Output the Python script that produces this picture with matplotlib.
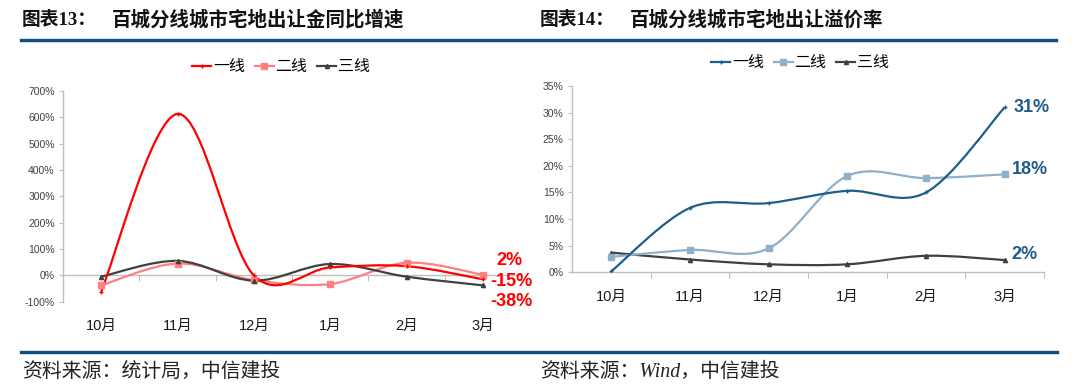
import matplotlib
matplotlib.use('Agg')
import matplotlib.pyplot as plt
from matplotlib.path import Path
from matplotlib.patches import PathPatch
from matplotlib.lines import Line2D

plt.rcParams['font.family'] = ['Liberation Sans', 'Noto Sans CJK SC', 'DejaVu Sans']

months = ['10月', '11月', '12月', '1月', '2月', '3月']
series_names = ['一线', '二线', '三线']

# 百城分线城市宅地出让金同比增速 (%)
growth_t1 = [-62, 613, 0, 30, 35, -15]
growth_t2 = [-38, 45, -18, -33, 48, 2]
growth_t3 = [-5, 55, -20, 43, -5, -38]

# 百城分线城市宅地出让溢价率 (%)
premium_t1 = [0.2, 12.1, 13.0, 15.3, 15.0, 31.0]
premium_t2 = [2.9, 4.2, 4.5, 18.1, 17.7, 18.4]
premium_t3 = [3.7, 2.4, 1.5, 1.5, 3.1, 2.3]

W, H = 1080, 390
fig = plt.figure(figsize=(W / 100, H / 100), dpi=100)


def fx(px):
    return px / W


def fy(py):
    return 1 - py / H


def smooth_path(xs, ys):
    # Excel-style smoothed line: cubic bezier with catmull-rom control points
    n = len(xs)
    pts = list(zip(xs, ys))
    verts = [pts[0]]
    codes = [Path.MOVETO]
    for i in range(n - 1):
        p0 = pts[i - 1] if i > 0 else pts[i]
        p1 = pts[i]
        p2 = pts[i + 1]
        p3 = pts[i + 2] if i + 2 < n else pts[i + 1]
        c1 = (p1[0] + (p2[0] - p0[0]) / 6, p1[1] + (p2[1] - p0[1]) / 6)
        c2 = (p2[0] - (p3[0] - p1[0]) / 6, p2[1] - (p3[1] - p1[1]) / 6)
        verts += [c1, c2, p2]
        codes += [Path.CURVE4] * 3
    return Path(verts, codes)


def draw_series(ax, vals, color, marker, ms, lw=1.6):
    xs = list(range(len(vals)))
    ax.add_patch(PathPatch(smooth_path(xs, vals), facecolor='none',
                           edgecolor=color, lw=lw, zorder=3))
    ax.plot(xs, vals, ls='none', marker=marker, ms=ms, color=color,
            mec=color, zorder=4)


def style_axes(ax):
    ax.set_xlim(-0.5, len(months) - 0.5)
    for s in ['top', 'right']:
        ax.spines[s].set_visible(False)
    for s in ['left', 'bottom']:
        ax.spines[s].set_color('#BFBFBF')
        ax.spines[s].set_linewidth(1.0)
    ax.set_xticks([i + 0.5 for i in range(len(months))])
    ax.set_xticklabels([])
    ax.tick_params(axis='x', direction='out', length=4, color='#BFBFBF')
    ax.tick_params(axis='y', direction='out', length=3, color='#BFBFBF',
                   labelsize=7.5, labelcolor='#404040', pad=3)


# ---------- left chart ----------
ax1 = fig.add_axes([fx(63), fy(301.7), fx(458), 210.7 / H])
c1, c2, c3 = '#FF0000', '#FF8080', '#404040'
draw_series(ax1, growth_t2, c2, 's', 4.5)
draw_series(ax1, growth_t3, c3, '^', 3)
draw_series(ax1, growth_t1, c1, '+', 3.5)
ax1.set_ylim(-100, 700)
ax1.set_yticks(range(-100, 701, 100))
ax1.set_yticklabels([f'{v}%' for v in range(-100, 701, 100)])
style_axes(ax1)
ax1.spines['bottom'].set_position(('data', 0))
for i, m in enumerate(months):
    ax1.text(i, -0.115, m, transform=ax1.get_xaxis_transform(),
             ha='center', va='center', fontsize=10.5, color='#1a1a1a')

red_lbl = dict(color='#FF0000', fontsize=13, fontweight='bold',
               ha='center', va='center', textcoords='offset pixels',
               annotation_clip=False)
ax1.annotate(f'{growth_t2[-1]}%', xy=(5, growth_t2[-1]), xytext=(27, 14), **red_lbl)
ax1.annotate(f'{growth_t1[-1]}%', xy=(5, growth_t1[-1]), xytext=(29, -2), **red_lbl)
ax1.annotate(f'{growth_t3[-1]}%', xy=(5, growth_t3[-1]), xytext=(29, -16), **red_lbl)

h1 = [Line2D([], [], color=c1, marker='+', ms=3.5, lw=1.6),
      Line2D([], [], color=c2, marker='s', ms=4, lw=1.6),
      Line2D([], [], color=c3, marker='^', ms=3, lw=1.6)]
fig.legend(h1, series_names, loc='center', bbox_to_anchor=(fx(281), fy(67)),
           ncol=3, frameon=False, fontsize=11.5, handlelength=1.2,
           handletextpad=0.1, columnspacing=0.6)

# ---------- right chart ----------
ax2 = fig.add_axes([fx(572), fy(272.3), fx(472), 186.3 / H])
b1, b2, b3 = '#1B5E8E', '#8DB0CC', '#404040'
draw_series(ax2, premium_t3, b3, '^', 3)
draw_series(ax2, premium_t2, b2, 's', 4.5)
draw_series(ax2, premium_t1, b1, '+', 3.5)
ax2.set_ylim(0, 35)
ax2.set_yticks(range(0, 36, 5))
ax2.set_yticklabels([f'{v}%' for v in range(0, 36, 5)])
style_axes(ax2)
for i, m in enumerate(months):
    ax2.text(i, -0.13, m, transform=ax2.get_xaxis_transform(),
             ha='center', va='center', fontsize=10.5, color='#1a1a1a')

blue_lbl = dict(color='#1F5C8B', fontsize=13, fontweight='bold',
                ha='left', va='center', textcoords='offset pixels',
                annotation_clip=False)
ax2.annotate(f'{premium_t1[-1]:.0f}%', xy=(5, premium_t1[-1]), xytext=(9, 0), **blue_lbl)
ax2.annotate(f'{premium_t2[-1]:.0f}%', xy=(5, premium_t2[-1]), xytext=(7, 5), **blue_lbl)
ax2.annotate(f'{premium_t3[-1]:.0f}%', xy=(5, premium_t3[-1]), xytext=(7, 6), **blue_lbl)

h2 = [Line2D([], [], color=b1, marker='+', ms=3.5, lw=1.6),
      Line2D([], [], color=b2, marker='s', ms=4, lw=1.6),
      Line2D([], [], color=b3, marker='^', ms=3, lw=1.6)]
fig.legend(h2, series_names, loc='center', bbox_to_anchor=(fx(800), fy(63)),
           ncol=3, frameon=False, fontsize=11.5, handlelength=1.2,
           handletextpad=0.1, columnspacing=0.6)

# ---------- titles, rules, sources ----------
title_font = ['Liberation Serif', 'Noto Sans CJK SC']
for x0, num, title in [(22, '13', '百城分线城市宅地出让金同比增速'),
                       (540, '14', '百城分线城市宅地出让溢价率')]:
    fig.text(fx(x0), fy(20), f'图表{num}：', family=title_font,
             fontweight='bold', fontsize=13.5, va='center', color='#111111')
    fig.text(fx(x0 + 90), fy(20), title, family=['Noto Sans CJK SC'],
             fontweight='bold', fontsize=14, va='center', color='#111111')

fig.add_artist(Line2D([fx(21), fx(1056)], [fy(41), fy(41)], color='#A9C2DA', lw=1.0))
fig.add_artist(Line2D([fx(21), fx(1056)], [fy(39.5), fy(39.5)], color='#0F4C81', lw=2.4))
fig.add_artist(Line2D([fx(21), fx(1057)], [fy(352), fy(352)], color='#0F4C81', lw=2.4))

src_font = ['Liberation Serif', 'Noto Sans CJK SC']
fig.text(fx(22), fy(372), '资料来源：统计局，中信建投', family=src_font,
         fontstyle='italic', fontsize=14.3, va='center', color='#222222')
fig.text(fx(540), fy(372), '资料来源：Wind，中信建投', family=src_font,
         fontstyle='italic', fontsize=14.3, va='center', color='#222222')

fig.savefig('out.png', dpi=100)
